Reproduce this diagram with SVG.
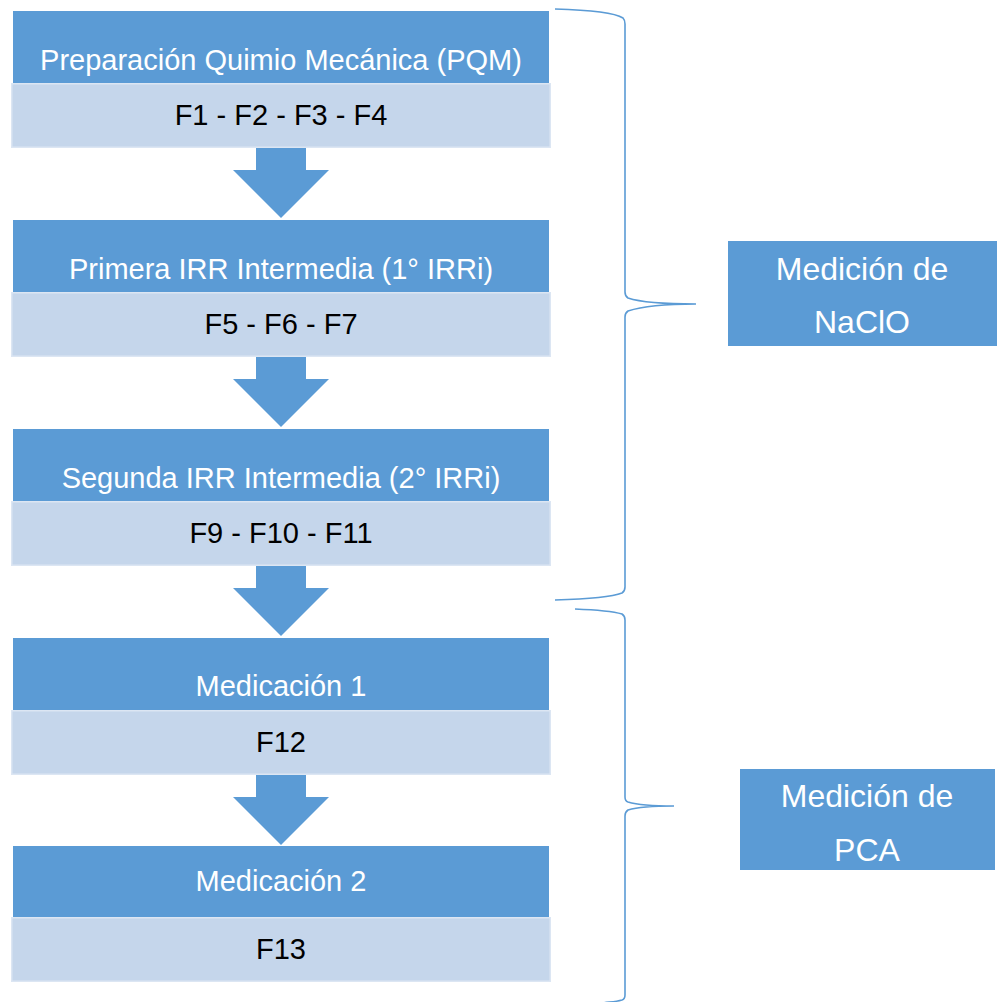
<svg xmlns="http://www.w3.org/2000/svg" width="997" height="1002" viewBox="0 0 997 1002">
<style>
.hd{fill:#5B9BD5}
.sub{fill:#C5D6EB;stroke:#DCE6F3;stroke-width:1.5}
.ht{font-family:"Liberation Sans",Arial,sans-serif;font-size:29px;fill:#FFFFFF;text-anchor:middle}
.st{font-family:"Liberation Sans",Arial,sans-serif;font-size:29px;fill:#000000;text-anchor:middle}
.lt{font-family:"Liberation Sans",Arial,sans-serif;font-size:32px;fill:#FFFFFF;text-anchor:middle}
.arr{fill:#5B9BD5}
.br{fill:none;stroke:#5B9BD5;stroke-width:1.6}
</style>
<rect width="997" height="1002" fill="#FFFFFF"/>
<g id="connectors">
<polygon class="arr" points="256,148 306,148 306,170 329,170 281,218 233,170 256,170"/>
<polygon class="arr" points="256,357 306,357 306,379 329,379 281,427 233,379 256,379"/>
<polygon class="arr" points="256,566 306,566 306,588 329,588 281,636 233,588 256,588"/>
<polygon class="arr" points="256,775 306,775 306,797 329,797 281,845 233,797 256,797"/>
<path class="br" d="M555,9 C590,10 615,13 623,18 Q625,20 625,24 L625,292 Q625,296 628,298 C640,302 665,304 696,304 C665,304 640,307 628,311 Q625,313 625,317 L625,587 Q625,591 622,593 C612,597 590,599 555,600"/>
<path class="br" d="M575,609 C600,610 615,612 622,614 Q625,616 625,620 L625,797 Q625,801 628,802 C638,805 655,806 674,806 C655,806 638,807 628,810 Q625,812 625,816 L625,995 Q625,999 622,1000 C615,1002 608,1002 603,1003"/>
</g>
<g id="node1">
<rect class="hd" x="13" y="11" width="536" height="72"/>
<text class="ht" x="281" y="70">Preparación Quimio Mecánica (PQM)</text>
<rect class="sub" x="11.75" y="83.75" width="538.5" height="63.5"/>
<text class="st" x="281" y="125">F1 - F2 - F3 - F4</text>
</g>
<g id="node2">
<rect class="hd" x="13" y="220" width="536" height="72"/>
<text class="ht" x="281" y="279">Primera IRR Intermedia (1° IRRi)</text>
<rect class="sub" x="11.75" y="292.75" width="538.5" height="63.5"/>
<text class="st" x="281" y="334">F5 - F6 - F7</text>
</g>
<g id="node3">
<rect class="hd" x="13" y="429" width="536" height="72"/>
<text class="ht" x="281" y="488">Segunda IRR Intermedia (2° IRRi)</text>
<rect class="sub" x="11.75" y="501.75" width="538.5" height="63.5"/>
<text class="st" x="281" y="543">F9 - F10 - F11</text>
</g>
<g id="node4">
<rect class="hd" x="13" y="638" width="536" height="72"/>
<text class="ht" x="281" y="696">Medicación 1</text>
<rect class="sub" x="11.75" y="710.75" width="538.5" height="63.5"/>
<text class="st" x="281" y="752">F12</text>
</g>
<g id="node5">
<rect class="hd" x="13" y="846" width="536" height="71"/>
<text class="ht" x="281" y="891">Medicación 2</text>
<rect class="sub" x="11.75" y="917.75" width="538.5" height="63.5"/>
<text class="st" x="281" y="959">F13</text>
</g>
<g id="label-naclo">
<rect class="hd" x="728" y="241" width="269" height="105"/>
<text class="lt" x="862" y="280">Medición de</text>
<text class="lt" x="862" y="333">NaClO</text>
</g>
<g id="label-pca">
<rect class="hd" x="740" y="769" width="255" height="101"/>
<text class="lt" x="867" y="807">Medición de</text>
<text class="lt" x="867" y="861">PCA</text>
</g>
</svg>
